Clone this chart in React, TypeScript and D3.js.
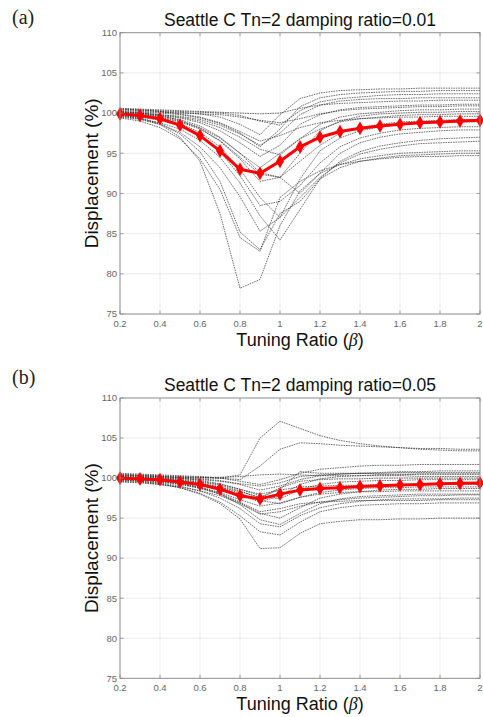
import React from 'react';
import * as d3 from 'd3';

const beta = [0.2, 0.3, 0.4, 0.5, 0.6, 0.7, 0.8, 0.9, 1.0, 1.1, 1.2, 1.3, 1.4, 1.5, 1.6, 1.7, 1.8, 1.9, 2.0];
const xTicks = [0.2, 0.4, 0.6, 0.8, 1, 1.2, 1.4, 1.6, 1.8, 2];
const xTickLabels = ['0.2', '0.4', '0.6', '0.8', '1', '1.2', '1.4', '1.6', '1.8', '2'];
const yTicks = [75, 80, 85, 90, 95, 100, 105, 110];

const titleA = 'Seattle C Tn=2 damping ratio=0.01';
const titleB = 'Seattle C Tn=2 damping ratio=0.05';

const meanA = [99.9, 99.7, 99.3, 98.5, 97.2, 95.3, 93.0, 92.5, 94.0, 95.8, 97.0, 97.7, 98.1, 98.4, 98.6, 98.8, 98.9, 99.0, 99.1];
const meanB = [100.0, 99.9, 99.8, 99.5, 99.2, 98.6, 97.8, 97.4, 98.0, 98.5, 98.7, 98.8, 98.95, 99.05, 99.15, 99.2, 99.3, 99.35, 99.4];

const recordsA = [
  [100.4, 100.3, 100.2, 100.1, 99.9, 99.5, 98.6, 97.3, 99.8, 101.8, 102.5, 102.8, 102.9, 103.0, 103.0, 103.1, 103.1, 103.1, 103.1],
  [100.2, 100.1, 100.0, 99.8, 99.4, 98.7, 97.5, 95.8, 98.0, 100.8, 101.9, 102.3, 102.5, 102.6, 102.7, 102.7, 102.8, 102.8, 102.8],
  [100.5, 100.4, 100.3, 100.2, 100.1, 100.0, 99.7, 99.0, 98.5, 100.3, 101.4, 101.8, 102.0, 102.2, 102.3, 102.3, 102.4, 102.4, 102.4],
  [100.6, 100.5, 100.4, 100.3, 100.2, 100.1, 100.0, 99.9, 100.0, 100.6, 101.0, 101.2, 101.3, 101.4, 101.5, 101.5, 101.6, 101.6, 101.6],
  [100.0, 99.9, 99.7, 99.4, 98.8, 97.8, 96.3, 94.6, 96.0, 98.6, 99.8, 100.4, 100.7, 100.8, 100.9, 101.0, 101.0, 101.1, 101.1],
  [100.3, 100.2, 100.1, 100.0, 99.9, 99.8, 99.5, 99.1, 98.8, 99.3, 99.9, 100.3, 100.5, 100.6, 100.7, 100.8, 100.8, 100.9, 100.9],
  [100.1, 100.0, 99.8, 99.5, 99.0, 98.2, 97.0, 95.5, 94.8, 96.8, 98.6, 99.5, 99.9, 100.1, 100.3, 100.4, 100.4, 100.5, 100.5],
  [99.9, 99.8, 99.6, 99.2, 98.4, 97.0, 95.0, 93.2, 95.0, 96.8, 98.0, 98.9, 99.3, 99.5, 99.7, 99.8, 99.8, 99.9, 99.9],
  [100.2, 100.0, 99.7, 99.1, 98.1, 96.5, 94.3, 91.5, 92.0, 94.0, 96.0, 97.5, 98.2, 98.6, 98.9, 99.0, 99.1, 99.2, 99.2],
  [99.8, 99.6, 99.3, 98.7, 97.6, 95.8, 93.0, 89.5, 87.0, 91.8, 95.3, 96.9, 97.8, 98.3, 98.6, 98.7, 98.8, 98.9, 98.9],
  [99.7, 99.5, 99.1, 98.4, 97.2, 95.2, 92.2, 88.5, 89.0, 91.0, 93.8, 95.8, 96.9, 97.5, 97.9, 98.1, 98.2, 98.3, 98.3],
  [100.0, 99.8, 99.5, 99.0, 98.2, 96.9, 95.0, 92.6, 92.0, 90.0, 92.5, 95.0, 96.3, 97.0, 97.4, 97.6, 97.8, 97.9, 97.9],
  [99.6, 99.3, 98.8, 98.0, 96.6, 94.5, 91.3, 87.2, 84.2, 88.0, 91.8, 94.0, 95.2, 95.9, 96.3, 96.6, 96.8, 96.9, 97.0],
  [99.5, 99.2, 98.6, 97.6, 95.8, 93.2, 89.6, 85.3, 87.0, 89.5, 92.0, 93.8, 94.9, 95.5, 95.9, 96.2, 96.3, 96.4, 96.5],
  [99.7, 99.3, 98.6, 97.0, 94.0, 87.5, 78.2, 79.3, 86.0, 90.3, 92.5, 93.6, 94.3, 94.7, 95.0, 95.1, 95.2, 95.3, 95.3],
  [99.8, 99.4, 98.7, 97.4, 95.2, 91.5, 85.2, 83.0, 87.5, 89.0, 91.8, 93.2, 94.0, 94.4, 94.7, 94.8, 94.9, 95.0, 95.0],
  [99.4, 99.0, 98.2, 96.8, 94.3, 90.5, 84.5, 82.8, 89.5, 91.5, 92.8, 93.6, 94.0, 94.3, 94.5, 94.6, 94.6, 94.7, 94.7],
  [100.5, 100.4, 100.2, 99.9, 99.5, 98.8, 97.7, 96.5, 97.2, 98.2, 98.8, 99.1, 99.3, 99.4, 99.5, 99.5, 99.6, 99.6, 99.6],
  [99.9, 99.7, 99.4, 98.9, 98.0, 96.6, 94.5, 92.4, 92.0, 95.0, 97.8, 99.0, 99.6, 99.9, 100.0, 100.1, 100.1, 100.2, 100.2],
  [100.1, 100.0, 99.8, 99.6, 99.2, 98.5, 97.4, 96.0, 97.5, 99.8, 101.0, 101.5, 101.7, 101.8, 101.8, 101.9, 101.9, 101.9, 101.9],
];

const recordsB = [
  [100.3, 100.3, 100.2, 100.1, 100.0, 100.0, 100.4, 105.0, 107.1, 106.2, 105.3, 104.7, 104.3, 104.0, 103.8, 103.6, 103.5, 103.4, 103.4],
  [100.5, 100.4, 100.3, 100.2, 100.1, 100.0, 99.8, 101.5, 103.6, 104.4, 104.3, 104.1, 104.0, 103.9, 103.8, 103.7, 103.7, 103.6, 103.6],
  [100.6, 100.5, 100.4, 100.3, 100.2, 100.0, 99.6, 99.2, 99.8, 100.6, 101.1, 101.3, 101.5, 101.6, 101.6, 101.7, 101.7, 101.7, 101.7],
  [100.2, 100.1, 100.0, 99.9, 99.8, 99.6, 99.3, 99.0, 99.4, 100.2, 100.4, 100.5, 100.6, 100.6, 100.7, 100.7, 100.7, 100.7, 100.7],
  [100.0, 99.9, 99.8, 99.6, 99.3, 98.8, 97.9, 97.0, 97.8, 99.2, 99.9, 100.2, 100.3, 100.4, 100.4, 100.5, 100.5, 100.5, 100.5],
  [100.4, 100.3, 100.2, 100.1, 100.1, 100.1, 100.2, 100.4, 100.5, 100.4, 100.3, 100.3, 100.3, 100.3, 100.3, 100.2, 100.2, 100.2, 100.2],
  [99.9, 99.8, 99.7, 99.5, 99.2, 98.9, 98.3, 97.6, 98.6, 100.8, 100.6, 100.6, 100.6, 100.5, 100.5, 100.5, 100.5, 100.5, 100.5],
  [100.1, 100.0, 99.9, 99.7, 99.4, 98.9, 98.1, 97.2, 96.8, 97.6, 98.2, 98.5, 98.7, 98.8, 98.8, 98.9, 98.9, 98.9, 98.9],
  [99.8, 99.7, 99.5, 99.2, 98.7, 98.0, 96.9, 95.6, 95.0, 96.3, 97.5, 98.0, 98.3, 98.5, 98.6, 98.6, 98.7, 98.7, 98.7],
  [100.0, 99.9, 99.7, 99.4, 98.9, 98.2, 97.3, 96.5, 96.9, 97.6, 98.0, 98.2, 98.3, 98.3, 98.4, 98.4, 98.4, 98.4, 98.4],
  [99.7, 99.6, 99.4, 99.0, 98.4, 97.5, 96.2, 94.3, 93.9, 95.3, 96.3, 96.8, 97.1, 97.3, 97.4, 97.4, 97.4, 97.5, 97.5],
  [99.9, 99.8, 99.6, 99.3, 98.8, 98.1, 97.0, 95.8, 96.2, 96.8, 97.0, 97.1, 97.2, 97.2, 97.2, 97.2, 97.3, 97.3, 97.3],
  [99.6, 99.5, 99.2, 98.8, 98.1, 97.0, 95.3, 93.3, 92.9, 94.5, 95.8, 96.3, 96.6, 96.7, 96.8, 96.8, 96.9, 96.9, 96.9],
  [99.8, 99.6, 99.3, 98.8, 98.0, 96.8, 94.9, 91.2, 91.3, 93.1, 94.3, 94.6, 94.8, 94.8, 94.9, 94.9, 95.0, 95.0, 95.0],
  [100.2, 100.1, 100.0, 99.8, 99.6, 99.2, 98.6, 98.0, 98.5, 98.9, 99.0, 99.1, 99.1, 99.2, 99.2, 99.2, 99.2, 99.2, 99.2],
  [100.4, 100.3, 100.2, 100.0, 99.7, 99.3, 98.6, 97.8, 97.4, 98.6, 99.2, 99.5, 99.6, 99.7, 99.7, 99.8, 99.8, 99.8, 99.8],
  [99.9, 99.8, 99.6, 99.3, 98.8, 98.0, 96.7, 94.8, 94.2, 95.6, 96.8, 97.4, 97.7, 97.8, 97.9, 98.0, 98.0, 98.0, 98.0],
  [100.1, 100.0, 99.9, 99.7, 99.5, 99.1, 98.4, 97.5, 98.8, 99.6, 99.8, 99.9, 99.9, 100.0, 100.0, 100.0, 100.0, 100.0, 100.0],
  [99.5, 99.4, 99.2, 98.9, 98.4, 97.8, 96.8, 95.5, 95.8, 96.5, 97.0, 97.3, 97.5, 97.6, 97.7, 97.8, 97.8, 97.9, 97.9],
  [100.3, 100.2, 100.1, 100.0, 99.9, 99.7, 99.2, 98.5, 99.0, 99.8, 100.3, 100.5, 100.6, 100.7, 100.8, 100.8, 100.9, 100.9, 100.9],
];

const SANS = '"Liberation Sans", Arial, sans-serif';
const SERIF = '"Liberation Serif", "DejaVu Serif", serif';

type PanelProps = {
  label: string;
  title: string;
  records: number[][];
  mean: number[];
  top: number;
  bottom: number;
  labelY: number;
  titleY: number;
  xLabelY: number;
};

const Panel = ({ label, title, records, mean, top, bottom, labelY, titleY, xLabelY }: PanelProps) => {
  const left = 120;
  const right = 480;
  const x = d3.scaleLinear().domain([0.2, 2]).range([left, right]);
  const y = d3.scaleLinear().domain([75, 110]).range([bottom, top]);
  const line = d3
    .line<number>()
    .x((_, i) => x(beta[i]))
    .y((d) => y(d));
  const diamond = d3.symbol().type(d3.symbolDiamond).size(30)() as string;
  const tickLen = 3.6;
  const axisColor = '#8a8a8a';
  return (
    <g>
      <text x={12} y={labelY} fontFamily={SERIF} fontSize={20} fill="#222">
        {label}
      </text>
      <text x={(left + right) / 2} y={titleY} textAnchor="middle" fontFamily={SANS} fontSize={17.5} fill="#111">
        {title}
      </text>
      <rect x={left} y={top} width={right - left} height={bottom - top} fill="#fff" />
      {xTicks.map((t) => (
        <line key={'gx' + t} x1={x(t)} x2={x(t)} y1={top} y2={bottom} stroke="#e3e3e3" strokeWidth={0.7} />
      ))}
      {yTicks.map((t) => (
        <line key={'gy' + t} x1={left} x2={right} y1={y(t)} y2={y(t)} stroke="#e3e3e3" strokeWidth={0.7} />
      ))}
      {records.map((r, i) => (
        <path
          key={'r' + i}
          d={line(r) as string}
          fill="none"
          stroke="#2a2a2a"
          strokeWidth={0.8}
          strokeDasharray="1.6,0.9"
          strokeOpacity={0.85}
        />
      ))}
      <path d={line(mean) as string} fill="none" stroke="#ff0000" strokeWidth={3} strokeLinejoin="round" />
      {mean.map((v, i) => (
        <path
          key={'m' + i}
          d={diamond}
          transform={`translate(${x(beta[i])},${y(v)})`}
          fill="#ff0000"
          stroke="#ff0000"
          strokeWidth={1.8}
        />
      ))}
      <rect x={left} y={top} width={right - left} height={bottom - top} fill="none" stroke={axisColor} strokeWidth={0.9} />
      {xTicks.map((t, i) => (
        <g key={'xt' + t}>
          <line x1={x(t)} x2={x(t)} y1={bottom} y2={bottom - tickLen} stroke={axisColor} strokeWidth={0.8} />
          <line x1={x(t)} x2={x(t)} y1={top} y2={top + tickLen} stroke={axisColor} strokeWidth={0.8} />
          <text x={x(t)} y={bottom + 12.5} textAnchor="middle" fontFamily={SANS} fontSize={9.5} fill="#666">
            {xTickLabels[i]}
          </text>
        </g>
      ))}
      {yTicks.map((t) => (
        <g key={'yt' + t}>
          <line x1={left} x2={left + tickLen} y1={y(t)} y2={y(t)} stroke={axisColor} strokeWidth={0.8} />
          <line x1={right} x2={right - tickLen} y1={y(t)} y2={y(t)} stroke={axisColor} strokeWidth={0.8} />
          <text x={left - 3} y={y(t) + 3.3} textAnchor="end" fontFamily={SANS} fontSize={9.5} fill="#666">
            {t}
          </text>
        </g>
      ))}
      <text x={(left + right) / 2} y={xLabelY} textAnchor="middle" fontFamily={SANS} fontSize={18} fill="#111">
        Tuning Ratio (<tspan fontFamily={SERIF} fontStyle="italic">β</tspan>)
      </text>
      <text
        transform={`translate(98,${(top + bottom) / 2}) rotate(-90)`}
        textAnchor="middle"
        fontFamily={SANS}
        fontSize={19}
        fill="#111"
      >
        Displacement (%)
      </text>
    </g>
  );
};

export default function App() {
  return (
    <svg
      width={483}
      height={717}
      style={{ position: 'absolute', left: 0, top: 0, background: '#fff' }}
    >
      <rect width={483} height={717} fill="#fff" />
      <Panel label="(a)" title={titleA} records={recordsA} mean={meanA} top={32.7} bottom={314} labelY={24} titleY={26} xLabelY={346} />
      <Panel label="(b)" title={titleB} records={recordsB} mean={meanB} top={398} bottom={678.3} labelY={384} titleY={391} xLabelY={710} />
    </svg>
  );
}
